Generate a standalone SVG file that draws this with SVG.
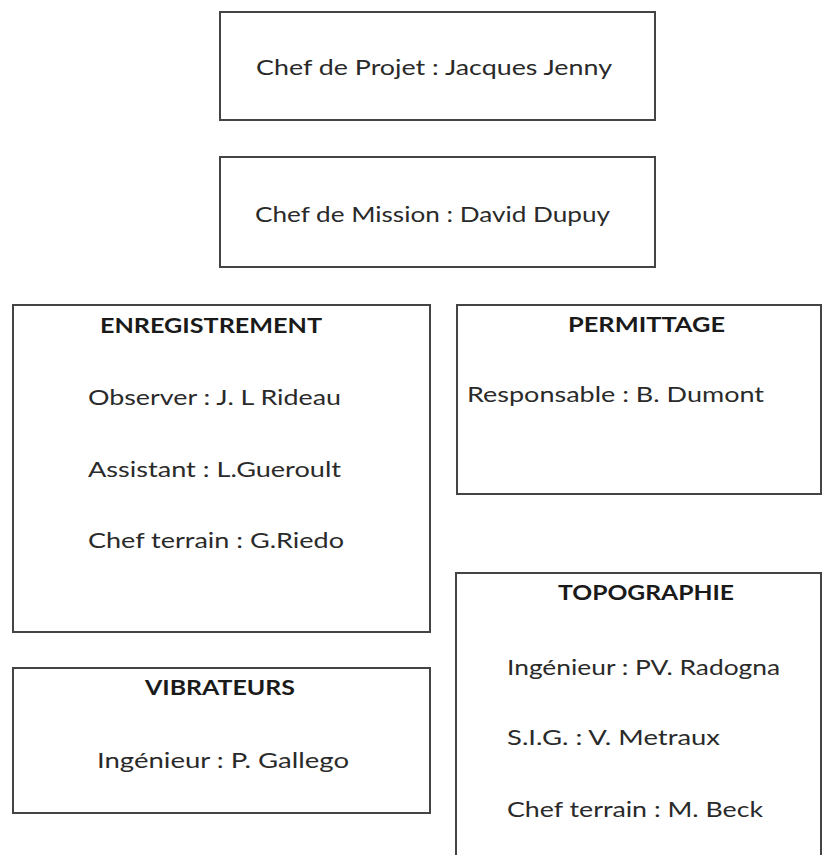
<svg xmlns="http://www.w3.org/2000/svg" width="823" height="855" viewBox="0 0 823 855">
<style>
.box{fill:#fff;stroke:#444;stroke-width:2}
text{font-family:Lato,"Open Sans",sans-serif;font-size:21.5px;fill:#2a2a2a}
.h{font-weight:bold;fill:#1a1a1a}
</style>
<rect width="823" height="855" fill="#fff"/>
<g id="chef-projet">
<rect class="box" x="220" y="12" width="435" height="108"/>
<text x="256" y="75" textLength="356" lengthAdjust="spacingAndGlyphs">Chef de Projet : Jacques Jenny</text>
</g>
<g id="chef-mission">
<rect class="box" x="220" y="157" width="435" height="110"/>
<text x="255" y="222" textLength="355" lengthAdjust="spacingAndGlyphs">Chef de Mission : David Dupuy</text>
</g>
<g id="enregistrement">
<rect class="box" x="13" y="305" width="417" height="327"/>
<text class="h" x="100" y="333" textLength="222" lengthAdjust="spacingAndGlyphs">ENREGISTREMENT</text>
<text x="88" y="405" textLength="253" lengthAdjust="spacingAndGlyphs">Observer : J. L Rideau</text>
<text x="88" y="477" textLength="253" lengthAdjust="spacingAndGlyphs">Assistant : L.Gueroult</text>
<text x="88" y="548" textLength="256" lengthAdjust="spacingAndGlyphs">Chef terrain : G.Riedo</text>
</g>
<g id="permittage">
<rect class="box" x="457" y="305" width="364" height="189"/>
<text class="h" x="568" y="332" textLength="157" lengthAdjust="spacingAndGlyphs">PERMITTAGE</text>
<text x="467" y="402" textLength="297" lengthAdjust="spacingAndGlyphs">Responsable : B. Dumont</text>
</g>
<g id="vibrateurs">
<rect class="box" x="13" y="668" width="417" height="145"/>
<text class="h" x="145" y="695" textLength="150" lengthAdjust="spacingAndGlyphs">VIBRATEURS</text>
<text x="97" y="768" textLength="252" lengthAdjust="spacingAndGlyphs">Ingénieur : P. Gallego</text>
</g>
<g id="topographie">
<rect class="box" x="456" y="573" width="365" height="300"/>
<text class="h" x="558" y="600" textLength="176" lengthAdjust="spacingAndGlyphs">TOPOGRAPHIE</text>
<text x="507" y="675" textLength="273" lengthAdjust="spacingAndGlyphs">Ingénieur : PV. Radogna</text>
<text x="507" y="745" textLength="213" lengthAdjust="spacingAndGlyphs">S.I.G. : V. Metraux</text>
<text x="507" y="817" textLength="256" lengthAdjust="spacingAndGlyphs">Chef terrain : M. Beck</text>
</g>
<g id="connectors"/>
</svg>
